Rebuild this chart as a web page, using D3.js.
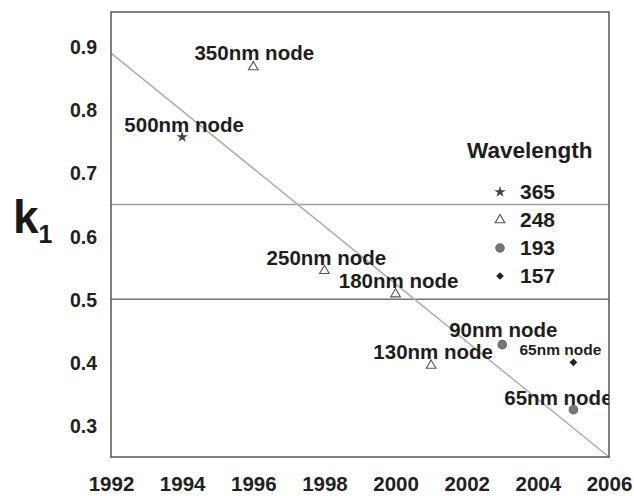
<!DOCTYPE html>
<html>
<head>
<meta charset="utf-8">
<script src="https://cdn.jsdelivr.net/npm/d3@7"></script>
<style>
    body { margin: 0; background: #fff; }
    svg { font-family: "Liberation Sans", Arial, sans-serif; font-weight: bold; }
</style>
</head>
<body>
<svg id="chart" width="634" height="496"></svg>
<script>
// data
const years = [1994, 1996, 1998, 2000, 2001, 2003, 2005, 2005]
const k1Values = [0.757, 0.868, 0.545, 0.508, 0.395, 0.428, 0.4, 0.325]
const wavelengths = [365, 248, 248, 248, 248, 193, 157, 193]
const nodeLabels = ["500nm node", "350nm node", "250nm node", "180nm node",
    "130nm node", "90nm node", "65nm node", "65nm node"]

const legendWavelengths = [365, 248, 193, 157]
const xTicks = [1992, 1994, 1996, 1998, 2000, 2002, 2004, 2006]
const yTicks = [0.3, 0.4, 0.5, 0.6, 0.7, 0.8, 0.9]
const trendYears = [1992, 2006]
const trendValues = [0.89, 0.25]
const refLines = [0.65, 0.5]

// layout only: label nudges [dx, dy, fontSize]
const labelLayout = [[2, -5, 20.5], [1, -7, 20.5], [2, -6, 20.5], [3, -6, 20.5],
    [2, -6, 20.5], [1, -8, 20.5], [-13, -7, 15.5], [-15, -5, 20.5]]

const plot = { left: 111, right: 609, top: 12, bottom: 457 }

const svg = d3.select("#chart")

const x = d3.scaleLinear().domain([1992, 2006]).range([plot.left, plot.right])
const y = d3.scaleLinear().domain([0.25, 0.955]).range([plot.bottom, plot.top])

const symbolFor = {
    365: { type: d3.symbolStar, size: 40, fill: "#444", stroke: "none", rot: 0 },
    248: { type: d3.symbolTriangle, size: 40, fill: "#fff", stroke: "#555", rot: 0 },
    193: { type: d3.symbolCircle, size: 56, fill: "#777", stroke: "#666", rot: 0 },
    157: { type: d3.symbolSquare, size: 30, fill: "#222", stroke: "none", rot: 45 }
}

svg.append("defs").append("clipPath").attr("id", "plot-clip")
    .append("rect")
    .attr("x", plot.left).attr("y", 0)
    .attr("width", plot.right - plot.left).attr("height", plot.bottom)

// reference lines
svg.append("g")
    .selectAll("line")
    .data(refLines)
    .join("line")
    .attr("x1", plot.left).attr("x2", plot.right)
    .attr("y1", (d) => y(d)).attr("y2", (d) => y(d))
    .attr("stroke", (d, i) => (i === 0 ? "#a0a0a0" : "#777"))
    .attr("stroke-width", 1.5)

// trend line
svg.append("line")
    .attr("x1", x(trendYears[0])).attr("y1", y(trendValues[0]))
    .attr("x2", x(trendYears[1])).attr("y2", y(trendValues[1]))
    .attr("stroke", "#b0b0b0")
    .attr("stroke-width", 1.6)

// frame
svg.append("rect")
    .attr("x", plot.left).attr("y", plot.top)
    .attr("width", plot.right - plot.left)
    .attr("height", plot.bottom - plot.top)
    .attr("fill", "none")
    .attr("stroke", "#555")
    .attr("stroke-width", 1.5)

// axes without tick lines
const xAxis = svg.append("g")
    .attr("transform", `translate(0, ${plot.bottom})`)
    .call(d3.axisBottom(x).tickValues(xTicks).tickFormat(d3.format("d")).tickSize(0))
xAxis.select(".domain").remove()
xAxis.selectAll("text")
    .attr("y", 34).attr("dy", 0)
    .attr("font-size", 20.5).attr("font-family", null)
    .attr("fill", "#222")

const yAxis = svg.append("g")
    .attr("transform", `translate(${plot.left}, 0)`)
    .call(d3.axisLeft(y).tickValues(yTicks).tickFormat(d3.format(".1f")).tickSize(0))
yAxis.select(".domain").remove()
yAxis.selectAll("text")
    .attr("x", -14).attr("dy", "0.36em")
    .attr("font-size", 19.5).attr("font-family", null)
    .attr("fill", "#222")

// axis title k1
const title = svg.append("text")
    .attr("x", 13).attr("y", 233)
    .attr("fill", "#1a1a1a")
title.append("tspan").attr("font-size", 46).text("k")
title.append("tspan").attr("font-size", 25).attr("dy", 10).text("1")

// points
const points = years.map((yr, i) => ({
    year: yr, k1: k1Values[i], wl: wavelengths[i], label: nodeLabels[i], layout: labelLayout[i]
}))

svg.append("g")
    .attr("clip-path", "url(#plot-clip)")
    .selectAll("text")
    .data(points)
    .join("text")
    .attr("x", (d) => x(d.year) + d.layout[0])
    .attr("y", (d) => y(d.k1) + d.layout[1])
    .attr("text-anchor", "middle")
    .attr("font-size", (d) => d.layout[2])
    .attr("fill", "#1e1e1e")
    .text((d) => d.label)

const drawSymbol = (sel, key) => sel
    .attr("d", (d) => d3.symbol(symbolFor[key(d)].type, symbolFor[key(d)].size)())
    .attr("fill", (d) => symbolFor[key(d)].fill)
    .attr("stroke", (d) => symbolFor[key(d)].stroke)
    .attr("stroke-width", 1.1)

svg.append("g")
    .selectAll("path")
    .data(points)
    .join("path")
    .attr("transform", (d) =>
        `translate(${x(d.year)}, ${y(d.k1)}) rotate(${symbolFor[d.wl].rot})`)
    .call(drawSymbol, (d) => d.wl)

// legend
const legend = svg.append("g").attr("transform", "translate(467, 158)")
legend.append("text")
    .attr("x", 0).attr("y", 0)
    .attr("font-size", 22.5)
    .attr("fill", "#1e1e1e")
    .text("Wavelength")

const items = legend.selectAll("g.item")
    .data(legendWavelengths)
    .join("g")
    .attr("class", "item")
    .attr("transform", (d, i) => `translate(0, ${34 + i * 28})`)

items.append("path")
    .attr("transform", (d) => `translate(33, 0) rotate(${symbolFor[d].rot})`)
    .call(drawSymbol, (d) => d)

items.append("text")
    .attr("x", 53).attr("y", 7)
    .attr("font-size", 21)
    .attr("fill", "#1e1e1e")
    .text((d) => d)
</script>
</body>
</html>
